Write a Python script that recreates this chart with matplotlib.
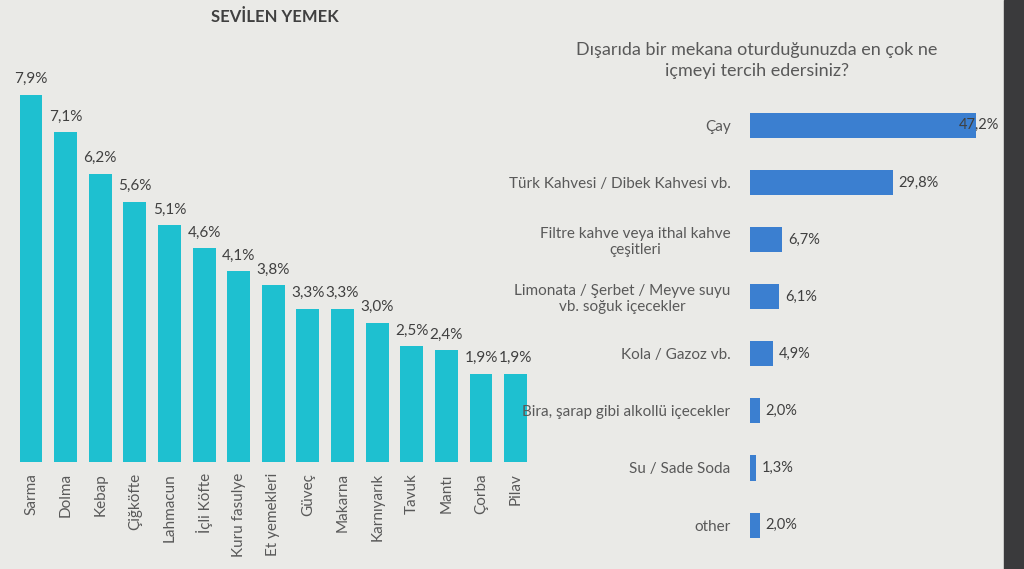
import matplotlib.pyplot as plt
from matplotlib.patches import Rectangle

plt.rcParams['font.family'] = ['Lato', 'DejaVu Sans']

# Sevilen yemek (sol grafik)
yemekler = ['Sarma', 'Dolma', 'Kebap', 'Çiğköfte', 'Lahmacun', 'İçli Köfte',
            'Kuru fasulye', 'Et yemekleri', 'Güveç', 'Makarna', 'Karnıyarık',
            'Tavuk', 'Mantı', 'Çorba', 'Pilav']
yemek_oran = [7.9, 7.1, 6.2, 5.6, 5.1, 4.6, 4.1, 3.8, 3.3, 3.3, 3.0, 2.5, 2.4, 1.9, 1.9]

# İçecek tercihi (sağ grafik)
icecekler = ['Çay', 'Türk Kahvesi / Dibek Kahvesi vb.',
             'Filtre kahve veya ithal kahve\nçeşitleri',
             'Limonata / Şerbet / Meyve suyu\nvb. soğuk içecekler',
             'Kola / Gazoz vb.', 'Bira, şarap gibi alkollü içecekler',
             'Su / Sade Soda', 'other']
icecek_oran = [47.2, 29.8, 6.7, 6.1, 4.9, 2.0, 1.3, 2.0]

bg = '#eaeae7'
gri = '#595959'

fig = plt.figure(figsize=(10.24, 5.69), dpi=100, facecolor=bg)

# ekranın sağ kenarı (koyu çerçeve)
fig.patches.append(Rectangle((0.98, 0), 0.02, 1, transform=fig.transFigure,
                             color='#3a3a3c', zorder=0))

# --- sol: sütun grafik ---
ax1 = fig.add_axes([0.0134, 0.188, 0.507, 0.7355])
ax1.set_facecolor('none')
x = range(len(yemekler))
bars = ax1.bar(x, yemek_oran, width=0.66, color='#1ec0d0')
ax1.set_xlim(-0.5, len(yemekler) - 0.5)
ax1.set_ylim(0, 9)
for b, v in zip(bars, yemek_oran):
    ax1.text(b.get_x() + b.get_width() / 2, v + 0.18, f'{v:.1f}%'.replace('.', ','),
             ha='center', va='bottom', fontsize=11, color='#404040')
ax1.set_xticks(list(x))
ax1.set_xticklabels(yemekler, rotation=90, fontsize=11, color=gri)
ax1.tick_params(axis='x', length=0, pad=8)
ax1.set_yticks([])
for s in ax1.spines.values():
    s.set_visible(False)

fig.text(0.268, 0.97, 'SEVİLEN YEMEK', ha='center', va='center',
         fontsize=12, fontweight='bold', color='#404040')

# --- sağ: yatay çubuk grafik ---
ax2 = fig.add_axes([0.7324, 0.027, 0.243, 0.803])
ax2.set_facecolor('none')
y = range(len(icecekler))
hbars = ax2.barh(y, icecek_oran, height=0.44, color='#3b7fd0')
xmax = 52
ax2.set_xlim(0, xmax)
for b, v in zip(hbars, icecek_oran):
    etiket = f'{v:.1f}%'.replace('.', ',')
    yc = b.get_y() + b.get_height() / 2
    if v + 10 > xmax:
        # yer yok: etiket çubuğun ucuna biniyor
        ax2.text(xmax, yc, etiket, ha='right', va='center', fontsize=10.5, color='#404040')
    else:
        ax2.text(v + 1.2, yc, etiket, ha='left', va='center', fontsize=10.5, color='#404040')
ax2.set_ylim(len(icecekler) - 0.5, -0.5)
ax2.set_yticks(list(y))
ax2.set_yticklabels(icecekler, fontsize=11, color=gri)
for t in ax2.get_yticklabels():
    t.set_multialignment('center')
ax2.tick_params(axis='y', length=0, pad=14)
ax2.set_xticks([])
for s in ax2.spines.values():
    s.set_visible(False)

fig.text(0.739, 0.893,
         'Dışarıda bir mekana oturduğunuzda en çok ne\niçmeyi tercih edersiniz?',
         ha='center', va='center', fontsize=13, color=gri, linespacing=1.4)

fig.savefig('out.png', dpi=100, facecolor=bg)
